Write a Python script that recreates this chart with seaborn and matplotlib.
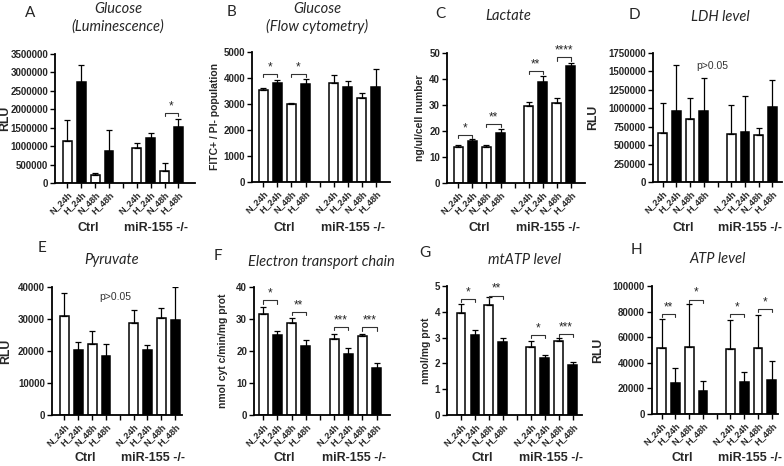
import matplotlib
matplotlib.use("Agg")
import numpy as np
import pandas as pd
import matplotlib.pyplot as plt
import matplotlib.transforms as mtransforms
import seaborn as sns

# ============================================================================
# Data (mean and upper error)
# ============================================================================
groups = ["Ctrl", "miR-155 -/-"]
conditions = ["N_24h", "H_24h", "N_48h", "H_48h"]

glucose_lum_mean = [1136000, 2745000, 218000, 880000, 945000, 1210000, 318000, 1527000]
glucose_lum_err = [564000, 465000, 52000, 550000, 135000, 150000, 227000, 218000]

glucose_flow_mean = [3520, 3800, 3000, 3750, 3800, 3670, 3220, 3650]
glucose_flow_err = [80, 120, 30, 230, 320, 220, 220, 680]

lactate_mean = [13.7, 16.0, 14.0, 19.3, 29.6, 39.0, 30.7, 45.1]
lactate_err = [1.0, 0.8, 0.7, 1.6, 1.4, 2.0, 2.0, 1.2]

ldh_mean = [660000, 958000, 848000, 968000, 650000, 678000, 632000, 1014000]
ldh_err = [408000, 625000, 288000, 442000, 395000, 495000, 104000, 368000]

pyruvate_mean = [30800, 20300, 22200, 18500, 28900, 20300, 30400, 29700]
pyruvate_err = [7200, 2500, 3900, 3600, 3800, 1500, 3100, 10300]

etc_mean = [31.6, 25.0, 28.9, 21.5, 23.8, 19.2, 24.7, 14.6]
etc_err = [2.1, 1.3, 1.4, 1.8, 1.6, 1.6, 0.5, 1.5]

mtatp_mean = [3.95, 3.09, 4.26, 2.84, 2.65, 2.21, 2.88, 1.95]
mtatp_err = [0.36, 0.20, 0.31, 0.14, 0.21, 0.13, 0.09, 0.09]

atp_mean = [51700, 23900, 52500, 17900, 50600, 24700, 51200, 26800]
atp_err = [22300, 11700, 33500, 8100, 23200, 8300, 26500, 14500]

# significance brackets: (slot a, slot b, height, label)
glucose_lum_sig = [(7, 8, 1910000, "*")]
glucose_flow_sig = [(0, 1, 4160, "*"), (2, 3, 4160, "*")]
lactate_sig = [(0, 1, 18.6, "*"), (2, 3, 22.7, "**"), (5, 6, 43.2, "**"), (7, 8, 48.3, "****")]
etc_sig = [(0, 1, 35.8, "*"), (2, 3, 32.2, "**"), (5, 6, 27.5, "***"), (7, 8, 27.4, "***")]
mtatp_sig = [(0, 1, 4.5, "*"), (2, 3, 4.63, "**"), (5, 6, 3.11, "*"), (7, 8, 3.14, "***")]
atp_sig = [(0, 1, 78000, "**"), (2, 3, 89400, "*"), (5, 6, 78000, "*"), (7, 8, 81800, "*")]

# ============================================================================
# Style
# ============================================================================
sns.set_style("ticks")
plt.rcParams['font.family'] = ['Liberation Sans', 'DejaVu Sans']
TITLE_FONT = ['Lato', 'Open Sans', 'DejaVu Sans']

W, H = 784, 466
fig = plt.figure(figsize=(W / 100, H / 100), dpi=100)

slot_order = [f"{groups[0]}|{c}" for c in conditions] + ["gap"] + \
             [f"{groups[1]}|{c}" for c in conditions]
slot_labels = conditions + [""] + conditions


def px_rect(left, right, top, bottom):
    return [left / W, 1 - bottom / H, (right - left) / W, (bottom - top) / H]


def draw_panel(rect, xlim, mean, err, ymax, ystep, ylabel, ylab_px, sigs=None,
               ptext=None, group_off=44):
    ax = fig.add_axes(rect)
    df = pd.DataFrame({
        "slot": [f"{g}|{c}" for g in groups for c in conditions],
        "value": mean,
        "cond": [c[0] for g in groups for c in conditions],
    })
    sns.barplot(data=df, x="slot", y="value", hue="cond", order=slot_order,
                palette={"N": "white", "H": "black"}, dodge=False, width=0.64,
                edgecolor="black", linewidth=1.1, errorbar=None, legend=False, ax=ax)
    xs = [slot_order.index(s) for s in df["slot"]]
    ax.errorbar(xs, mean, yerr=[np.zeros(len(err)), err], fmt="none",
                ecolor="black", elinewidth=0.9, capsize=2.3, capthick=0.9, zorder=1)

    ax.set_xlim(*xlim)
    ax.set_ylim(0, ymax)
    yt = np.arange(0, ymax + ystep / 2, ystep)
    ax.set_yticks(yt, labels=[f"{v:.0f}" for v in yt], fontsize=7, fontweight="bold")
    ax.set_xticks(range(len(slot_order)), labels=slot_labels, rotation=45, ha="right",
                  rotation_mode="anchor", fontsize=6.6, fontweight="bold")
    ax.tick_params(axis="both", length=3.5, width=1.0, pad=1.5, color="black")
    ax.set_xlabel("")
    ax.set_ylabel(ylabel, fontsize=7.5 if len(ylabel) > 6 else 8.8, fontweight="bold")
    ax.yaxis.set_label_coords(ylab_px / (rect[2] * W), 0.5)
    sns.despine(ax=ax)
    for sp in ["left", "bottom"]:
        ax.spines[sp].set_linewidth(1.3)
        ax.spines[sp].set_color("black")

    drop = 0.025 * ymax
    for a, b, h, lab in (sigs or []):
        ax.plot([a, a, b, b], [h - drop, h, h, h - drop], color="#333333", lw=0.8)
        ax.text((a + b) / 2, h + 0.005 * ymax, lab, ha="center", va="bottom", fontsize=8.5)
    if ptext:
        ax.text(ptext[0], ptext[1], "p>0.05", ha="center", va="center",
                fontsize=7.5, color="#333333")

    trans = mtransforms.blended_transform_factory(ax.transData, ax.transAxes)
    for gx, g in zip([1.5, 6.4], groups):
        ax.annotate(g, xy=(gx, 0), xycoords=trans, xytext=(0, -group_off * 0.72),
                    textcoords="offset points", ha="center", va="center",
                    fontsize=9, fontweight="bold")
    return ax


# ============================================================================
# Panels
# ============================================================================
draw_panel(px_rect(55, 195, 54, 183), (-0.9, 9.2), glucose_lum_mean, glucose_lum_err,
           3500000, 500000, "RLU", -44, glucose_lum_sig, group_off=45)
draw_panel(px_rect(252, 390, 52, 182), (-0.8, 9.0), glucose_flow_mean, glucose_flow_err,
           5000, 1000, "FITC+ / PI- population", -32, glucose_flow_sig, group_off=46)
draw_panel(px_rect(447, 585, 53, 183), (-0.8, 9.0), lactate_mean, lactate_err,
           50, 10, "ng/ul/cell number", -22, lactate_sig, group_off=45)
draw_panel(px_rect(653, 782, 53, 182), (-0.7, 8.7), ldh_mean, ldh_err,
           1750000, 250000, "RLU", -54, ptext=(3.6, 1580000), group_off=46)

draw_panel(px_rect(52, 182, 287, 415), (-0.9, 8.5), pyruvate_mean, pyruvate_err,
           40000, 10000, "RLU", -40, ptext=(3.7, 36800), group_off=43)
draw_panel(px_rect(254, 390, 287, 415), (-0.65, 8.95), etc_mean, etc_err,
           40, 10, "nmol cyt c/min/mg prot", -26, etc_sig, group_off=43)
draw_panel(px_rect(447, 582, 286, 415), (-1.0, 8.65), mtatp_mean, mtatp_err,
           5, 1, "nmol/mg prot", -16, mtatp_sig, group_off=43)
draw_panel(px_rect(652, 778, 286, 414), (-0.7, 8.45), atp_mean, atp_err,
           100000, 20000, "RLU", -48, atp_sig, group_off=44)

# titles and panel letters
titles = [
    (118, 18, "Glucose\n(Luminescence)"),
    (317, 18, "Glucose\n(Flow cytometry)"),
    (508, 16, "Lactate"),
    (720, 17, "LDH level"),
    (112, 260, "Pyruvate"),
    (321, 262, "Electron transport chain"),
    (525, 260, "mtATP level"),
    (718, 259, "ATP level"),
]
for x, y, t in titles:
    fig.text(x / W, 1 - y / H, t, ha="center", va="center", fontsize=10.5,
             style="italic", family=TITLE_FONT, linespacing=1.25)

letters = [(30, 13, "A"), (231, 12, "B"), (440, 14, "C"), (634, 15, "D"),
           (42, 248, "E"), (218, 256, "F"), (425, 253, "G"), (636, 250, "H")]
for x, y, t in letters:
    fig.text(x / W, 1 - y / H, t, ha="center", va="center", fontsize=11,
             family=TITLE_FONT)

plt.savefig("out.png", dpi=100, facecolor="white")
